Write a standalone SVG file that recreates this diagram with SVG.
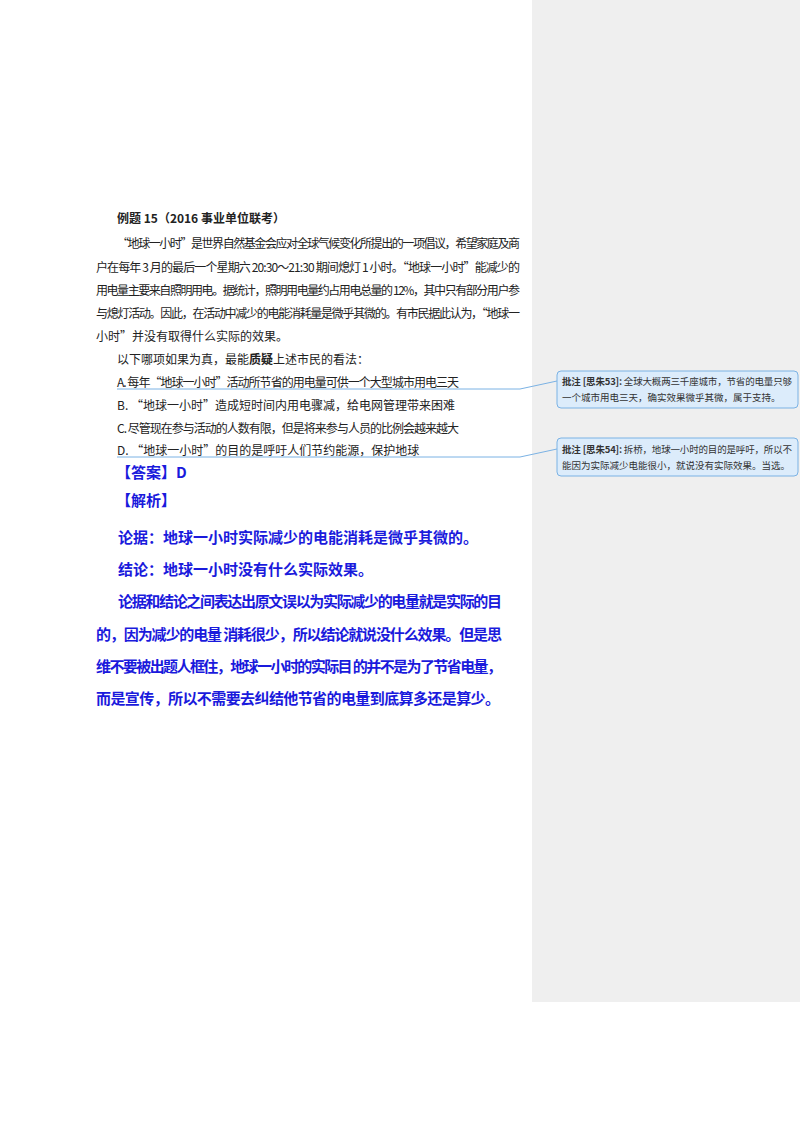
<svg xmlns="http://www.w3.org/2000/svg" width="800" height="1132" viewBox="0 0 800 1132">
<style>
.t{font-family:"Noto Sans CJK SC","Liberation Serif",serif;font-size:12px;fill:#222}
.b{font-family:"Noto Sans CJK SC",sans-serif;font-size:15px;font-weight:bold;fill:#1a1adc}
.c{font-family:"Noto Sans CJK SC",sans-serif;font-size:9.5px;fill:#333}
.box{fill:#dcecfb;stroke:#7bb2e4;stroke-width:1}
.ln{fill:none;stroke:#7bb2e4;stroke-width:1}
</style>
<rect width="800" height="1132" fill="#fff"/>
<rect x="532" y="0" width="268" height="1002" fill="#efefef"/>
<g id="text">
<text class="t" x="117" y="223" font-weight="bold">例题 15（2016 事业单位联考）</text>
<text class="t" x="117" y="248" textLength="403">“地球一小时”是世界自然基金会应对全球气候变化所提出的一项倡议，希望家庭及商</text>
<text class="t" x="96" y="272" textLength="424">户在每年 3 月的最后一个星期六 20:30～21:30 期间熄灯 1 小时。“地球一小时”能减少的</text>
<text class="t" x="96" y="295" textLength="424">用电量主要来自照明用电。据统计，照明用电量约占用电总量的 12%，其中只有部分用户参</text>
<text class="t" x="96" y="318" textLength="424">与熄灯活动。因此，在活动中减少的电能消耗量是微乎其微的。有市民据此认为，“地球一</text>
<text class="t" x="96" y="341">小时”并没有取得什么实际的效果。</text>
<text class="t" x="117" y="364">以下哪项如果为真，最能<tspan font-weight="bold">质疑</tspan>上述市民的看法：</text>
<text class="t" x="117" y="387" textLength="342">A. 每年“地球一小时”活动所节省的用电量可供一个大型城市用电三天</text>
<text class="t" x="117" y="410">B. “地球一小时”造成短时间内用电骤减，给电网管理带来困难</text>
<text class="t" x="117" y="433" textLength="342">C. 尽管现在参与活动的人数有限，但是将来参与人员的比例会越来越大</text>
<text class="t" x="117" y="455">D. “地球一小时”的目的是呼吁人们节约能源，保护地球</text>
<text class="b" x="116" y="478" font-weight="normal">【答案】D</text>
<text class="b" x="116" y="506">【解析】</text>
<text class="b" x="118" y="543">论据：地球一小时实际减少的电能消耗是微乎其微的。</text>
<text class="b" x="118" y="575">结论：地球一小时没有什么实际效果。</text>
<text class="b" x="118" y="607" textLength="384">论据和结论之间表达出原文误以为实际减少的电量就是实际的目</text>
<text class="b" x="96" y="640" textLength="406">的，因为减少的电量 消耗很少，所以结论就说没什么效果。但是思</text>
<text class="b" x="96" y="672" textLength="406">维不要被出题人框住，地球一小时的实际目 的并不是为了节省电量，</text>
<text class="b" x="96" y="704" textLength="404">而是宣传，所以不需要去纠结他节省的电量到底算多还是算少。</text>
</g>
<g id="connectors">
<path class="ln" d="M117 389 H520 L557 381"/>
<path class="ln" d="M117 457 H520 L557 449"/>
</g>
<g id="comment53">
<rect class="box" x="557" y="371" width="241" height="37" rx="4"/>
<text class="c" x="562" y="385" textLength="230"><tspan font-weight="bold">批注 [思朱53]:</tspan> 全球大概两三千座城市，节省的电量只够</text>
<text class="c" x="562" y="401">一个城市用电三天，确实效果微乎其微，属于支持。</text>
</g>
<g id="comment54">
<rect class="box" x="557" y="438" width="241" height="38" rx="4"/>
<text class="c" x="562" y="453" textLength="230"><tspan font-weight="bold">批注 [思朱54]:</tspan> 拆桥，地球一小时的目的是呼吁，所以不</text>
<text class="c" x="562" y="469">能因为实际减少电能很小，就说没有实际效果。当选。</text>
</g>
</svg>
